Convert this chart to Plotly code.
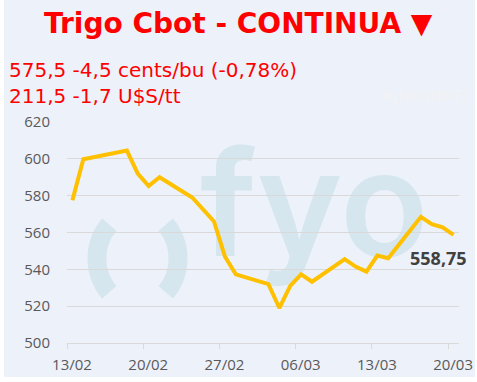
import numpy as np
import pandas as pd
import plotly.graph_objects as go

# ---- data ----
dates = ["2025-02-13", "2025-02-14", "2025-02-18", "2025-02-19", "2025-02-20", "2025-02-21",
         "2025-02-24", "2025-02-26", "2025-02-27", "2025-02-28", "2025-03-03", "2025-03-04",
         "2025-03-05", "2025-03-06", "2025-03-07", "2025-03-10", "2025-03-11", "2025-03-12",
         "2025-03-13", "2025-03-14", "2025-03-17", "2025-03-18", "2025-03-19", "2025-03-20"]
prices = [577.5, 599.75, 604.5, 592.0, 585.25, 590.0,
          579.0, 566.0, 547.0, 537.25, 532.0, 519.0,
          531.0, 537.25, 533.25, 545.5, 541.5, 538.75,
          547.5, 546.0, 568.5, 564.5, 562.75, 558.75]
tick_dates = ["2025-02-13", "2025-02-20", "2025-02-27", "2025-03-06", "2025-03-13", "2025-03-20"]
tick_labels = ["13/02", "20/02", "27/02", "06/03", "13/03", "20/03"]
title_text = "Trigo Cbot - CONTINUA ▼"
sub1 = "575,5 -4,5 cents/bu (-0,78%)"
sub2 = "211,5 -1,7 U$S/tt"

W, H = 477, 382
L, R, T, B = 67, 18, 122, 39
PW, PH = W - L - R, H - T - B

def px(x):
    return (x - L) / PW

def py(y):
    return (H - B - y) / PH

BG = "#EDF1F9"
WM = "#D6E6EF"
RED = "#FF0000"

x = pd.to_datetime(dates) + pd.Timedelta(hours=12)

fig = go.Figure()
fig.add_trace(go.Scatter(x=x, y=prices, mode="lines",
                         line=dict(color="#FFC000", width=4), hoverinfo="skip"))

last_label = f"{prices[-1]:.2f}".replace(".", ",")
fig.add_annotation(x=x[-1], y=prices[-1], text=f"<b>{last_label}</b>", showarrow=False,
                   xshift=-15, yshift=-23,
                   font=dict(family="Open Sans", size=18, color="#404040"))

shapes = []
# panel background
shapes.append(dict(type="rect", xref="paper", yref="paper", x0=px(4), x1=px(475),
                   y0=py(377), y1=py(0), fillcolor=BG, line=dict(width=0), layer="below"))

# watermark parentheses
def ell_arc(t0, t1, a=40.5, b=47):
    th = np.radians(np.linspace(t0, t1, 40))
    pts = [f"{a*np.cos(t):.2f},{b*np.sin(t):.2f}" for t in th]
    return "M" + " L".join(pts)

for t0, t1 in [(180 - 46, 180 + 46), (-46, 46)]:
    shapes.append(dict(type="path", xref="paper", yref="paper", xsizemode="pixel", ysizemode="pixel",
                       xanchor=px(137.5), yanchor=py(258.5), path=ell_arc(t0, t1),
                       line=dict(color=WM, width=19), layer="below"))
# watermark text
shapes.append(dict(type="rect", xref="paper", yref="paper", x0=px(214), x1=px(415),
                   y0=py(248), y1=py(148), line=dict(width=0), fillcolor="rgba(0,0,0,0)",
                   layer="below",
                   label=dict(text="fyo", font=dict(family="Inter", size=146, weight=600, color=WM),
                              textposition="middle center")))

fig.update_layout(shapes=shapes)

fig.add_annotation(xref="paper", yref="paper", x=px(238.5), y=py(23), xanchor="center", yanchor="middle",
                   text=f"<b>{title_text}</b>", showarrow=False,
                   font=dict(family="DejaVu Sans", size=28, color=RED))
fig.add_annotation(xref="paper", yref="paper", x=px(7), y=py(70), xanchor="left", yanchor="middle",
                   text=sub1, showarrow=False, font=dict(family="DejaVu Sans", size=20, color=RED))
fig.add_annotation(xref="paper", yref="paper", x=px(7), y=py(96), xanchor="left", yanchor="middle",
                   text=sub2, showarrow=False, font=dict(family="DejaVu Sans", size=20, color=RED))
fig.add_annotation(xref="paper", yref="paper", x=px(380), y=py(95), xanchor="left", yanchor="middle",
                   text="#¿NOMBRE?", showarrow=False, font=dict(family="Open Sans", size=15, color="#F3F3F3"))

fig.update_layout(
    width=W, height=H, autosize=False,
    margin=dict(l=L, r=R, t=T, b=B, pad=0),
    paper_bgcolor="white", plot_bgcolor="rgba(0,0,0,0)",
    showlegend=False,
    xaxis=dict(type="date", range=["2025-02-13", "2025-03-21"], automargin=False,
               tickvals=pd.to_datetime(tick_dates), ticktext=tick_labels,
               ticks="outside", ticklen=5, tickcolor="#D9D9D9", tickwidth=1,
               ticklabelshift=5, ticklabelstandoff=3,
               showgrid=False, showline=True, linecolor="#D9D9D9", linewidth=1,
               zeroline=False,
               tickfont=dict(family="Open Sans", size=15, color="#595959")),
    yaxis=dict(range=[500, 620], dtick=20, tick0=500, automargin=False,
               showgrid=True, gridcolor="#D9D9D9", gridwidth=1,
               zeroline=False, showline=False, ticks="",
               ticklabelstandoff=16,
               tickfont=dict(family="Open Sans", size=15, color="#595959")),
)

fig.write_html("out.html")
